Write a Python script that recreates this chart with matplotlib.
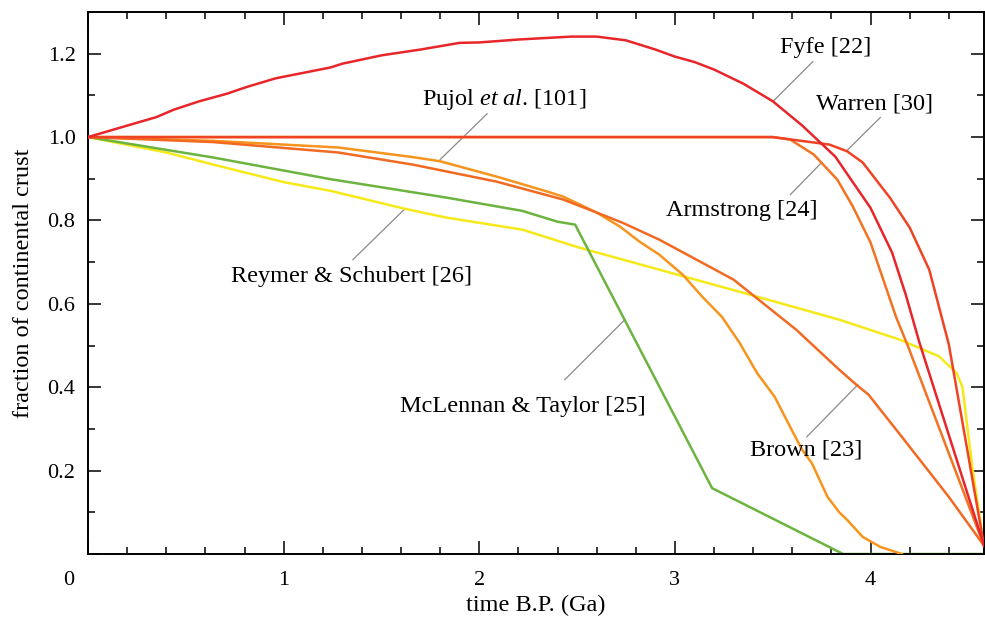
import numpy as np
import matplotlib
matplotlib.use('Agg')
import matplotlib.pyplot as plt
import matplotlib.transforms as mtransforms
from matplotlib.ticker import MultipleLocator

plt.rcParams.update({
    'font.family': 'serif',
    'font.serif': ['Liberation Serif', 'DejaVu Serif'],
    'font.size': 16,
    'mathtext.fontset': 'custom',
    'mathtext.rm': 'Liberation Serif',
    'mathtext.it': 'Liberation Serif:italic',
    'axes.linewidth': 1.4,
})

# curves: time B.P. (Ga) vs fraction of continental crust
fyfe_t = [0, 0.16, 0.35, 0.44, 0.57, 0.71, 0.81, 0.96, 1.24, 1.3, 1.5, 1.7, 1.9, 2.0,
          2.2, 2.47, 2.6, 2.75, 2.9, 3.0, 3.1, 3.2, 3.35, 3.5, 3.65, 3.82, 4.0, 4.11,
          4.18, 4.25, 4.58]
fyfe_f = [1.0, 1.022, 1.048, 1.066, 1.086, 1.104, 1.12, 1.141, 1.167, 1.176, 1.196, 1.21,
          1.226, 1.227, 1.234, 1.241, 1.241, 1.232, 1.21, 1.193, 1.18, 1.162, 1.128, 1.086,
          1.028, 0.953, 0.83, 0.723, 0.622, 0.507, 0.02]

warren_t = [0, 3.5, 3.79, 3.88, 3.96, 4.10, 4.20, 4.30, 4.40, 4.58]
warren_f = [1.0, 1.0, 0.982, 0.966, 0.939, 0.854, 0.783, 0.682, 0.503, 0.02]

armstrong_t = [0, 3.5, 3.59, 3.71, 3.83, 3.91, 4.0, 4.06, 4.13, 4.19, 4.58]
armstrong_f = [1.0, 1.0, 0.994, 0.958, 0.898, 0.833, 0.747, 0.665, 0.569, 0.5, 0.02]

brown_t = [0, 0.64, 1.28, 1.66, 2.09, 2.43, 2.60, 2.73, 2.92, 3.11, 3.30, 3.62, 3.84,
           3.93, 3.99, 4.16, 4.40, 4.58]
brown_f = [1.0, 0.988, 0.963, 0.934, 0.893, 0.85, 0.819, 0.795, 0.754, 0.706, 0.658,
           0.538, 0.442, 0.405, 0.382, 0.281, 0.137, 0.02]

pujol_t = [0, 0.64, 1.28, 1.66, 1.80, 2.09, 2.35, 2.43, 2.60, 2.72, 2.82, 2.92, 3.04,
           3.14, 3.24, 3.33, 3.42, 3.51, 3.57, 3.65, 3.70, 3.78, 3.84, 3.88, 3.96, 4.05,
           4.16]
pujol_f = [1.0, 0.991, 0.975, 0.952, 0.942, 0.905, 0.869, 0.857, 0.819, 0.785, 0.749,
           0.718, 0.67, 0.617, 0.569, 0.507, 0.434, 0.377, 0.322, 0.25, 0.218, 0.137,
           0.10, 0.082, 0.041, 0.017, 0.0]

reymer_t = [0, 0.4, 0.7, 1.0, 1.24, 1.62, 1.83, 2.22, 2.51, 3.33, 3.84, 4.15, 4.35,
            4.44, 4.47, 4.52, 4.58]
reymer_f = [1.0, 0.963, 0.927, 0.892, 0.871, 0.828, 0.807, 0.778, 0.735, 0.629, 0.562,
            0.514, 0.474, 0.434, 0.40, 0.209, 0.02]

mclennan_t = [0, 0.64, 1.24, 1.83, 2.22, 2.40, 2.49, 3.19, 3.86, 4.58]
mclennan_f = [1.0, 0.951, 0.899, 0.855, 0.823, 0.797, 0.79, 0.158, 0.0, 0.0]

fig = plt.figure(figsize=(9.85, 6.24), dpi=100)
ax = fig.add_axes([88/985, 70/624, 1 - 88/985 - 0.001, (554 - 12)/624])

lw = 1.8
ax.plot(reymer_t, reymer_f, color='#f6e91a', lw=lw, zorder=2)
ax.plot(mclennan_t, mclennan_f, color='#6cb43f', lw=lw, zorder=2)
ax.plot(pujol_t, pujol_f, color='#f7941d', lw=lw, zorder=3)
ax.plot(brown_t, brown_f, color='#f26a22', lw=lw, zorder=3)
ax.plot(armstrong_t, armstrong_f, color='#f37321', lw=lw, zorder=3)
ax.plot(warren_t, warren_f, color='#ef4324', lw=lw, zorder=4)
ax.plot(fyfe_t, fyfe_f, color='#e8262a', lw=lw, zorder=4)

ax.set_xlim(0, 4.58)
ax.set_ylim(0, 1.3)
ax.xaxis.set_major_locator(MultipleLocator(1))
ax.xaxis.set_minor_locator(MultipleLocator(0.2))
ax.yaxis.set_major_locator(MultipleLocator(0.2))
ax.yaxis.set_minor_locator(MultipleLocator(0.1))
ax.tick_params(which='both', direction='in', top=True, right=True, width=1.1)
ax.tick_params(which='major', length=9.5)
ax.tick_params(which='minor', length=5)
ax.tick_params(axis='x', which='major', pad=12)
ax.tick_params(axis='y', which='major', pad=9)

ax.set_xticks([0, 1, 2, 3, 4])
ax.set_xticklabels(['0', '1', '2', '3', '4'])
ax.set_yticks([0, 0.2, 0.4, 0.6, 0.8, 1.0, 1.2])
ax.set_yticklabels(['', '0.2', '0.4', '0.6', '0.8', '1.0', '1.2'])

# shift origin label to the left, as in the original
offset = mtransforms.ScaledTranslation(-19/100, 0, fig.dpi_scale_trans)
lab0 = ax.get_xticklabels()[0]
lab0.set_transform(lab0.get_transform() + offset)

ax.set_xlabel('time B.P. (Ga)', fontsize=17.5, labelpad=4)
ax.set_ylabel('fraction of continental crust', fontsize=17.5, labelpad=10)

# labels with leader lines
lead = dict(color='#8a8a8a', lw=0.9, zorder=1)
labels = [
    ('Fyfe [22]', (3.77, 1.215), [(3.705, 1.181), (3.50, 1.085)]),
    ('Warren [30]', (4.02, 1.08), [(4.05, 1.047), (3.88, 0.968)]),
    ('Armstrong [24]', (3.34, 0.824), [(3.59, 0.862), (3.75, 0.939)]),
    (r'Pujol $\mathit{et\ al}$. [101]', (2.125, 1.09), [(2.04, 1.056), (1.80, 0.946)]),
    ('Reymer & Schubert [26]', (1.345, 0.665), [(1.354, 0.706), (1.62, 0.828)]),
    ('McLennan & Taylor [25]', (2.22, 0.353), [(2.437, 0.418), (2.744, 0.562)]),
    ('Brown [23]', (3.67, 0.25), [(3.674, 0.281), (3.935, 0.406)]),
]
for txt, (tx, ty), seg in labels:
    ax.text(tx, ty, txt, ha='center', va='center', fontsize=17.5, zorder=5)
    ax.plot([seg[0][0], seg[1][0]], [seg[0][1], seg[1][1]], **lead)

fig.savefig('out.png', dpi=100)
